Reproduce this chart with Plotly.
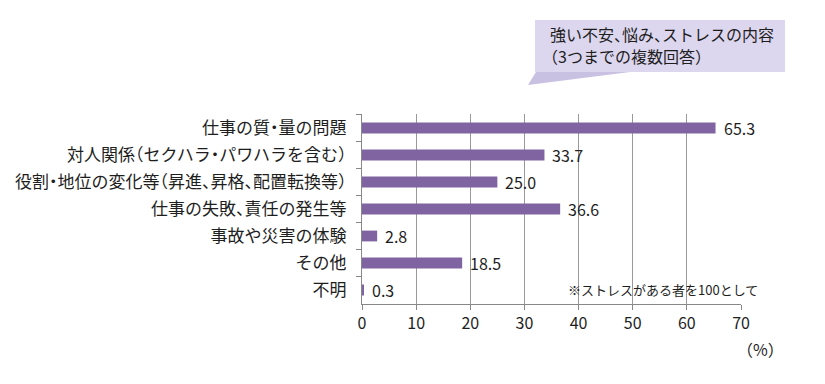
import plotly.graph_objects as go

categories = [
    "仕事の質・量の問題",
    "対人関係（セクハラ・パワハラを含む）",
    "役割・地位の変化等（昇進、昇格、配置転換等）",
    "仕事の失敗、責任の発生等",
    "事故や災害の体験",
    "その他",
    "不明",
]
values = [65.3, 33.7, 25.0, 36.6, 2.8, 18.5, 0.3]
x_ticks = [0, 10, 20, 30, 40, 50, 60, 70]
callout_lines = ["強い不安、悩み、ストレスの内容", "（3つまでの複数回答）"]
note_text = "※ストレスがある者を100として"
unit_text = "（%）"

FONT = "Noto Sans CJK JP"
BAR = "#8064A2"
TXT = "#1e1e1e"

fig = go.Figure()
fig.add_trace(go.Bar(
    x=values, y=categories, orientation="h",
    marker=dict(color=BAR, line=dict(width=0)),
    hoverinfo="skip",
))

annotations = []
for c, v in zip(categories, values):
    annotations.append(dict(
        x=v, y=c, xref="x", yref="y", text=f"{v:.1f}", showarrow=False,
        xanchor="left", xshift=6, font=dict(family=FONT, size=16, color=TXT),
    ))

annotations.append(dict(
    x=1.05, y=0.074, xref="paper", yref="paper", text=note_text, showarrow=False,
    xanchor="right", yanchor="middle", font=dict(family=FONT, size=13, color=TXT),
))
annotations.append(dict(
    x=1.12, y=-0.238, xref="paper", yref="paper", text=unit_text, showarrow=False,
    xanchor="right", yanchor="middle", font=dict(family=FONT, size=16, color=TXT),
))
for line, yy in zip(callout_lines, [1.421, 1.305]):
    annotations.append(dict(
        x=0.491, y=yy, xref="paper", yref="paper", text=line, showarrow=False,
        xanchor="left", yanchor="middle", align="left",
        font=dict(family=FONT, size=16, color=TXT),
    ))

# callout shape (paper coords relative to plot area)
def px(x):
    return (x - 362) / 379

def py(y):
    return (304 - y) / 190

shapes = [
    dict(type="path", xref="paper", yref="paper",
         path=f"M {px(528)} {py(85)} L {px(536)} {py(72)} L {px(630)} {py(72)} Z",
         fillcolor="#C9C1E2", line=dict(width=0), layer="above"),
    dict(type="rect", xref="paper", yref="paper",
         x0=px(535), x1=px(785), y0=py(72), y1=py(20),
         fillcolor="#DCD6EE", line=dict(width=0), layer="below"),
]

fig.update_layout(
    width=817, height=376,
    margin=dict(l=354, r=84, t=106, b=80, autoexpand=False),
    paper_bgcolor="white", plot_bgcolor="white",
    showlegend=False,
    bargap=0.6,
    font=dict(family=FONT, color=TXT),
    annotations=annotations,
    shapes=shapes,
    xaxis=dict(
        range=[0, 70], tickvals=x_ticks, ticktext=[str(t) for t in x_ticks],
        showgrid=True, gridcolor="#999", gridwidth=1,
        showline=True, linecolor="#888", linewidth=1,
        ticks="outside", ticklen=5, tickcolor="#888",
        tickfont=dict(family=FONT, size=16, color=TXT),
        zeroline=False, fixedrange=True, automargin=False,
    ),
    yaxis=dict(
        categoryorder="array", categoryarray=categories, autorange="reversed",
        showline=True, linecolor="#888", linewidth=1,
        ticks="outside", ticklen=5, tickcolor="#888", tickson="boundaries",
        tickfont=dict(family=FONT, size=17, color=TXT),
        ticklabelstandoff=11, showgrid=False, fixedrange=True, automargin=False,
    ),
)

post = """
var st = document.createElement('style');
st.textContent = '.ytick text { font-feature-settings: "halt"; }';
document.head.appendChild(st);
document.querySelectorAll('.annotation-text').forEach(function(t){
  if (t.textContent.indexOf('%') < 0) { t.style.fontFeatureSettings = '"halt"'; }
});
"""

fig.write_html("out.html", post_script=post)
